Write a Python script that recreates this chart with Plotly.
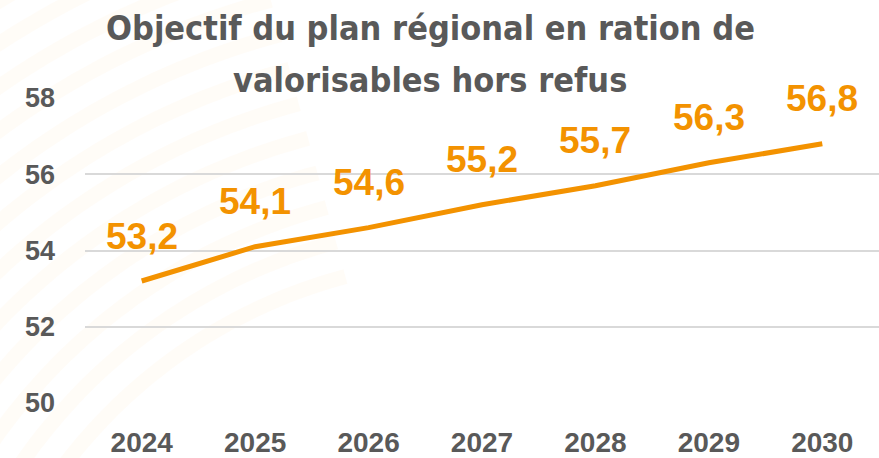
import math
import plotly.graph_objects as go

# Objectif régional : ratio de valorisables hors refus (%)
years = ["2024", "2025", "2026", "2027", "2028", "2029", "2030"]
values = [53.2, 54.1, 54.6, 55.2, 55.7, 56.3, 56.8]
y_ticks = [50, 52, 54, 56, 58]
title_lines = ["Objectif du plan régional en ration de", "valorisables hors refus"]

ORANGE = "#F39200"
GREY = "#595959"
W, H = 879, 458
ML, MR, MT, MB = 85, 0, 98, 53
PW, PH = W - ML - MR, H - MT - MB


def px_to_paper(xp, yp):
    """Convert page pixels (from top-left) to plot-area paper coordinates."""
    return (xp - ML) / PW, (H - MB - yp) / PH


fig = go.Figure()

fig.add_trace(go.Scatter(
    x=years, y=values, mode="lines",
    line=dict(color=ORANGE, width=5),
    hoverinfo="skip", showlegend=False,
))

# value labels above each point (French decimal comma); x given as category index
for i, v in enumerate(values):
    fig.add_annotation(
        x=i, y=v, xref="x", yref="y", text=f"{v:.1f}".replace(".", ","),
        showarrow=False, yshift=45,
        font=dict(family="Liberation Sans, Arial, sans-serif", size=37,
                  color=ORANGE, weight="bold"),
    )

# two-line chart title
for line, ypx in zip(title_lines, [28, 80]):
    tx, ty = px_to_paper(430, ypx)
    fig.add_annotation(
        x=tx, y=ty, xref="paper", yref="paper",
        xanchor="center", yanchor="middle", text=line, showarrow=False,
        font=dict(family="DejaVu Sans Condensed, Liberation Sans, sans-serif",
                  size=34, color=GREY, weight="bold"),
    )

# faint decorative arcs on the left side of the background
cx, cy = 480, 780
for r in range(520, 1000, 36):
    pts = []
    for k in range(0, 71):
        a = math.radians(105 + k * 1.0)
        pts.append(px_to_paper(cx + r * math.cos(a), cy - r * math.sin(a)))
    d = "M " + " L ".join(f"{x:.4f},{y:.4f}" for x, y in pts)
    fig.add_shape(type="path", path=d, xref="paper", yref="paper",
                  line=dict(color="rgba(243,146,0,0.03)", width=15), layer="below")

fig.update_layout(
    width=W, height=H,
    margin=dict(l=ML, r=MR, t=MT, b=MB),
    paper_bgcolor="white", plot_bgcolor="rgba(0,0,0,0)",
    font=dict(family="Liberation Sans, Arial, sans-serif", color=GREY),
)

fig.update_xaxes(
    type="category", categoryorder="array", categoryarray=years, range=[-0.5, 6.5],
    showgrid=False, zeroline=False, showline=False, ticks="",
    tickfont=dict(size=28, color=GREY, weight="bold"), ticklabelstandoff=20,
)
fig.update_yaxes(
    range=[50, 58], tickvals=y_ticks, showgrid=True, gridcolor="#D9D9D9", gridwidth=1.5,
    zeroline=False, showline=False, ticks="",
    tickfont=dict(size=27, color=GREY, weight="bold"), ticklabelstandoff=29,
)

fig.write_html("out.html")
